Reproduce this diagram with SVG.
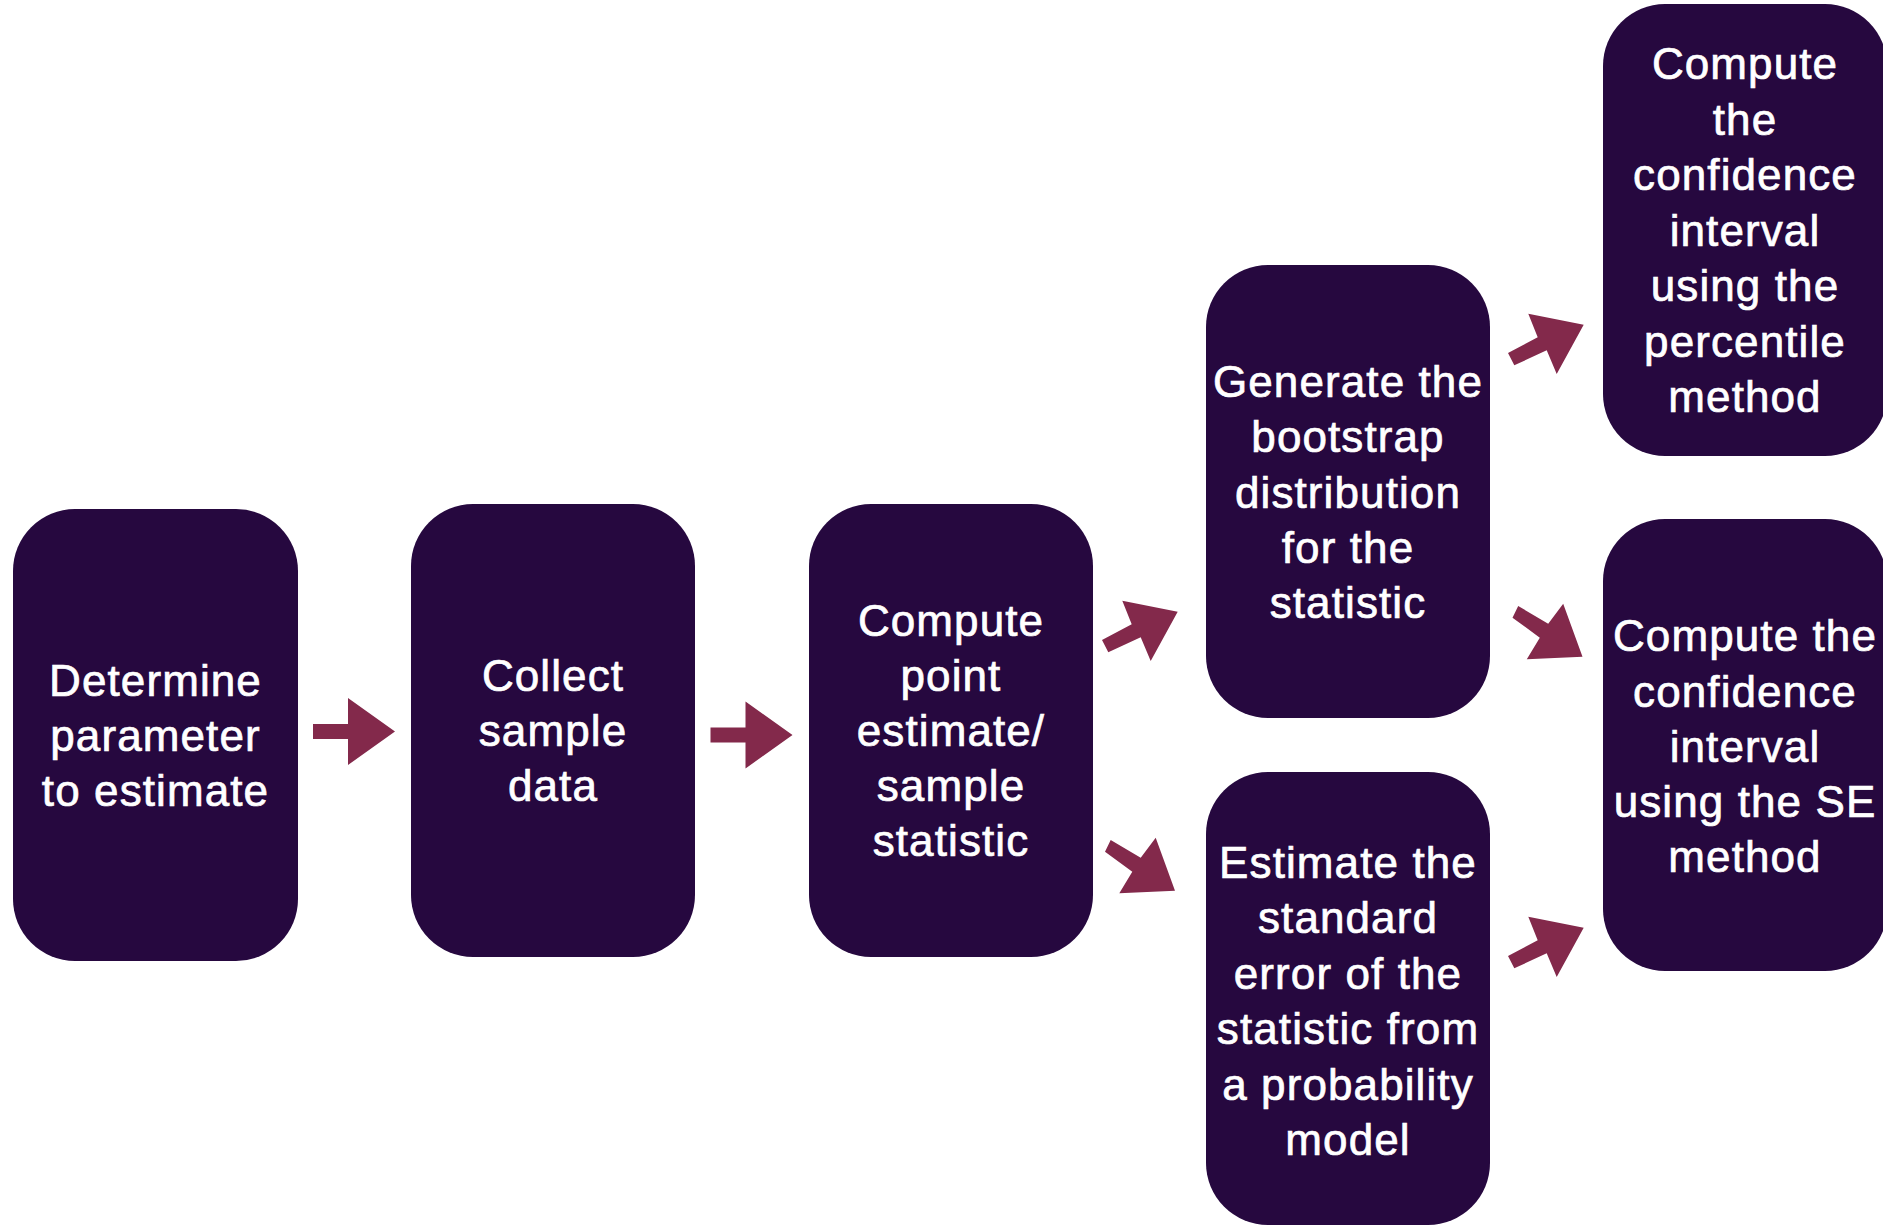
<svg xmlns="http://www.w3.org/2000/svg" width="1883" height="1230" viewBox="0 0 1883 1230">
<defs>
<style>
.node rect { fill: #26083F; }
.node text { fill: #FFFFFF; stroke: #FFFFFF; stroke-width: 0.7px; font-family: "Liberation Sans", Arial, Helvetica, sans-serif; font-size: 44px; letter-spacing: 1.1px; text-anchor: middle; }
.arrow { fill: #83294B; stroke: none; }
</style>
<path id="arrH" d="M313 724 L348 724 L348 698 L395 731.5 L348 765 L348 739 L313 739 Z"/>
<path id="arrUp" d="M1102 640 L1131.7 624.3 L1122.3 600.7 L1177.7 611.7 L1150.7 661 L1140.7 637.3 L1108.3 652.3 Z"/>
<path id="arrDown" d="M1110.7 840 L1140.7 857.7 L1155.7 837.7 L1175 890.7 L1119.3 893.3 L1132.3 871.7 L1105 851.7 Z"/>
</defs>
<rect width="1883" height="1230" fill="#FFFFFF"/>
<g id="connectors">
<use href="#arrH" class="arrow"/>
<use href="#arrH" class="arrow" transform="translate(397.5,3.5)"/>
<use href="#arrUp" class="arrow"/>
<use href="#arrDown" class="arrow"/>
<use href="#arrUp" class="arrow" transform="translate(406,-287)"/>
<use href="#arrDown" class="arrow" transform="translate(407.5,-234)"/>
<use href="#arrUp" class="arrow" transform="translate(406,316)"/>
</g>
<g id="node-determine" class="node">
<rect x="13" y="509" width="285" height="452" rx="62" ry="62"/>
<text x="155.5" y="696">Determine</text>
<text x="155.5" y="751">parameter</text>
<text x="155.5" y="806">to estimate</text>
</g>
<g id="node-collect" class="node">
<rect x="411" y="504" width="284" height="453" rx="62" ry="62"/>
<text x="553" y="691">Collect</text>
<text x="553" y="746">sample</text>
<text x="553" y="801">data</text>
</g>
<g id="node-point" class="node">
<rect x="809" y="504" width="284" height="453" rx="62" ry="62"/>
<text x="951" y="636">Compute</text>
<text x="951" y="691">point</text>
<text x="951" y="746">estimate/</text>
<text x="951" y="801">sample</text>
<text x="951" y="856">statistic</text>
</g>
<g id="node-bootstrap" class="node">
<rect x="1206" y="265" width="284" height="453" rx="62" ry="62"/>
<text x="1348" y="397">Generate the</text>
<text x="1348" y="452">bootstrap</text>
<text x="1348" y="508">distribution</text>
<text x="1348" y="563">for the</text>
<text x="1348" y="618">statistic</text>
</g>
<g id="node-se" class="node">
<rect x="1206" y="772" width="284" height="453" rx="62" ry="62"/>
<text x="1348" y="878">Estimate the</text>
<text x="1348" y="933">standard</text>
<text x="1348" y="989">error of the</text>
<text x="1348" y="1044">statistic from</text>
<text x="1348" y="1100">a probability</text>
<text x="1348" y="1155">model</text>
</g>
<g id="node-percentile" class="node">
<rect x="1603" y="4" width="284" height="452" rx="62" ry="62"/>
<text x="1745" y="79">Compute</text>
<text x="1745" y="135">the</text>
<text x="1745" y="190">confidence</text>
<text x="1745" y="246">interval</text>
<text x="1745" y="301">using the</text>
<text x="1745" y="357">percentile</text>
<text x="1745" y="412">method</text>
</g>
<g id="node-se-method" class="node">
<rect x="1603" y="519" width="284" height="452" rx="62" ry="62"/>
<text x="1745" y="651">Compute the</text>
<text x="1745" y="707">confidence</text>
<text x="1745" y="762">interval</text>
<text x="1745" y="817">using the SE</text>
<text x="1745" y="872">method</text>
</g>
</svg>
